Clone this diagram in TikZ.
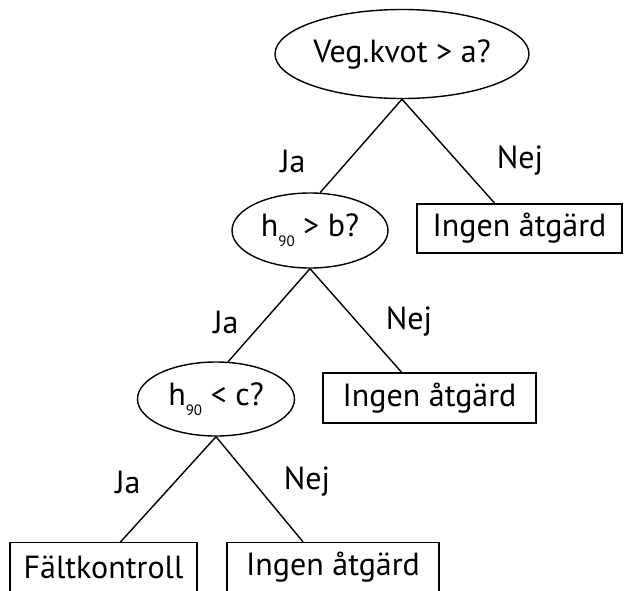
\documentclass[tikz,border=0pt]{standalone}
\usepackage{fontspec}
\setmainfont{PT Sans}
\usetikzlibrary{shapes.geometric,calc}
\newcommand{\hsub}{h\raisebox{-0.32em}{\fontsize{15}{17}\selectfont 90}}
\begin{document}
\begin{tikzpicture}[x=1pt,y=-1pt,
  every node/.style={font=\fontsize{32}{38}\selectfont, inner sep=0pt},
  qnode/.style={draw, ellipse, line width=1.4pt},
  abox/.style={draw, rectangle, line width=1.4pt},
  edge/.style={line width=1.4pt},
  lbl/.style={}]
\useasboundingbox (0,0) rectangle (624,590);
\clip (0,0) rectangle (624,590);
\node[qnode, minimum width=254pt, minimum height=89pt] (q1) at (402,54) {Veg.kvot > a?};
\node[qnode, minimum width=156pt, minimum height=75pt] (q2) at (310,230.5) {\hsub{} > b?};
\node[qnode, minimum width=157pt, minimum height=74pt] (q3) at (216,399) {\hsub{} < c?};
\node[abox, minimum width=205pt, minimum height=49pt] (b1) at (519.5,228.5) {Ingen åtgärd};
\node[abox, minimum width=213pt, minimum height=50pt] (b2) at (429.5,398) {Ingen åtgärd};
\node[abox, minimum width=187pt, minimum height=80pt, anchor=north] (b3) at (103.5,542) {};
\node[abox, minimum width=212pt, minimum height=80pt, anchor=north] (b4) at (333,542) {};
\node (t3) at (103.5,567) {Fältkontroll};
\node (t4) at (333,567) {Ingen åtgärd};
\draw[edge] (q1.south) -- (q2.75);
\draw[edge] (q1.south) -- ($(b1.north west)!0.38!(b1.north east)$);
\draw[edge] (q2.south) -- (q3.72);
\draw[edge] (q2.south) -- ($(b2.north west)!0.37!(b2.north east)$);
\draw[edge] (q3.south) -- ($(b3.north west)!0.59!(b3.north east)$);
\draw[edge] (q3.south) -- ($(b4.north west)!0.36!(b4.north east)$);
\node[lbl] (l1) at (293,161) {Ja};
\node[lbl] (l2) at (520,161) {Nej};
\node[lbl] (l3) at (226,322) {Ja};
\node[lbl] (l4) at (409,322) {Nej};
\node[lbl] (l5) at (128,482) {Ja};
\node[lbl] (l6) at (307,482) {Nej};
\end{tikzpicture}
\end{document}
